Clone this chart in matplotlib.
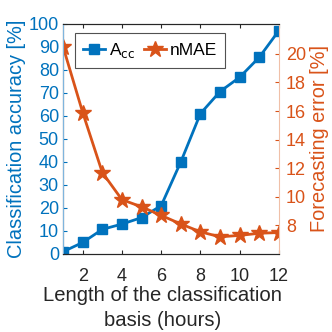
import numpy as np
import matplotlib.pyplot as plt

plt.rcParams['font.family'] = ['Liberation Sans', 'DejaVu Sans']

# data
hours = [1, 2, 3, 4, 5, 6, 7, 8, 9, 10, 11, 12]
acc = [1.0, 5.0, 10.7, 13.0, 15.8, 21.0, 40.0, 61.0, 70.6, 76.8, 85.5, 97.1]
nmae = [20.5, 15.9, 11.7, 9.8, 9.3, 8.7, 8.1, 7.55, 7.2, 7.3, 7.45, 7.5]

blue = '#0072BD'
orange = '#D95319'

fig = plt.figure(figsize=(3.32, 3.32), dpi=100)
ax = fig.add_axes([0.19, 0.235, 0.65, 0.693])
ax2 = ax.twinx()

l1, = ax.plot(hours, acc, '-s', color=blue, lw=2, ms=7.5, label='A$_{\\rm cc}$')
l2, = ax2.plot(hours, nmae, '-*', color=orange, lw=2, ms=12, label='nMAE')

ax.set_xlim(1, 12)
ax.set_ylim(0, 100)
ax.set_xticks([2, 4, 6, 8, 10, 12])
ax.set_yticks(np.arange(0, 101, 10))
ax2.set_ylim(6, 22.1)
ax2.set_yticks(np.arange(8, 21, 2))

ax.tick_params(axis='y', colors=blue, direction='in', labelsize=13, length=3, pad=3)
ax.tick_params(axis='x', colors='#262626', direction='in', labelsize=13, length=3, top=True, pad=10)
ax2.tick_params(axis='y', colors=orange, direction='in', labelsize=13, length=3, pad=5)
for sp in ['top', 'bottom']:
    ax.spines[sp].set_color('#262626')
    ax2.spines[sp].set_color('#262626')
ax2.spines['left'].set_color('#7fb5de')
ax2.spines['right'].set_color('#f0c0a8')
ax.spines['right'].set_visible(False)

ax.set_ylabel('Classification accuracy [%]', color=blue, fontsize=14.4, labelpad=2)
ax2.set_ylabel('Forecasting error [%]', color=orange, fontsize=14.4, labelpad=3)
ax.set_xlabel('Length of the classification\nbasis (hours)', color='#262626', fontsize=14.6,
              labelpad=2, linespacing=1.4)
ax.xaxis.set_label_coords(0.46, -0.14, transform=ax.transAxes)
ax.xaxis.label.set_va('top')

leg = ax.legend(handles=[l1, l2], loc='upper left', ncol=2, fontsize=12.5,
                bbox_to_anchor=(0.055, 0.96), fancybox=False, edgecolor='#262626',
                handlelength=1.3, columnspacing=0.5, handletextpad=0.2, borderpad=0.45,
                borderaxespad=0)
leg.get_frame().set_linewidth(0.8)
leg.set_zorder(10)

fig.savefig('out.png', dpi=100)
